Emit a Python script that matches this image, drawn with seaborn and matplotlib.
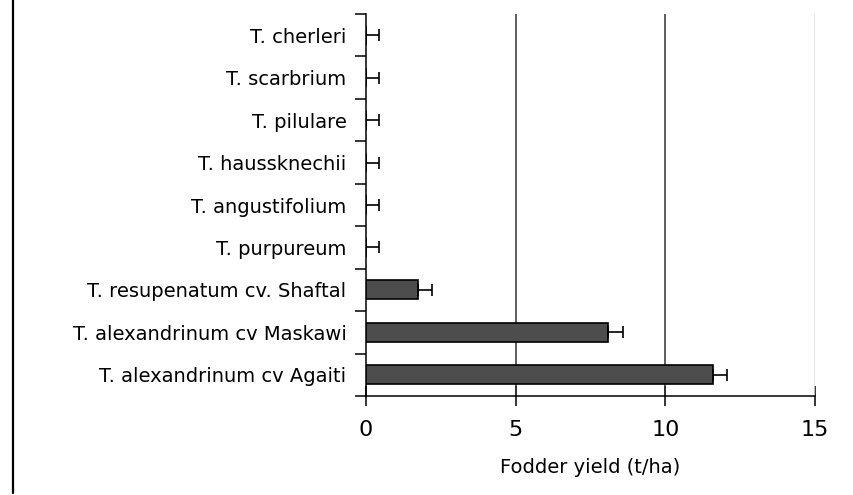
import numpy as np
import matplotlib
matplotlib.use("Agg")
import matplotlib.pyplot as plt
from matplotlib.lines import Line2D
import seaborn as sns

# ---- data ----
species = ["T. cherleri", "T. scarbrium", "T. pilulare", "T. haussknechii",
           "T. angustifolium", "T. purpureum", "T. resupenatum cv. Shaftal",
           "T. alexandrinum cv Maskawi", "T. alexandrinum cv Agaiti"]
yield_tha = [0, 0, 0, 0, 0, 0, 1.75, 8.1, 11.6]
yield_err = [0.43, 0.43, 0.43, 0.43, 0.43, 0.43, 0.45, 0.47, 0.45]
x_ticks = [0, 5, 10, 15]

sns.set_style("white")
plt.rcParams["font.family"] = ["DejaVu Sans"]
plt.rcParams["text.color"] = "black"
plt.rcParams["xtick.color"] = "black"
plt.rcParams["ytick.color"] = "black"
plt.rcParams["axes.labelcolor"] = "black"

fig = plt.figure(figsize=(8.54, 4.95), dpi=100)
ax = fig.add_axes([0.4286, 0.2, 0.5257, 0.7717])

sns.barplot(x=yield_tha, y=species, orient="h", color="#4d4d4d",
            saturation=1, width=0.45, edgecolor="black", linewidth=1.2,
            errorbar=None, ax=ax, zorder=3)

# one-sided error bars (positive side only)
pos = np.arange(len(species))
ax.errorbar(yield_tha, pos, xerr=[np.zeros(len(species)), yield_err],
            fmt="none", ecolor="black", elinewidth=1.2, capsize=4.5,
            capthick=1.2, zorder=4)

ax.set_xlim(0, 15)
ax.set_ylim(len(species) - 0.5, -0.5)
ax.set_xticks(x_ticks)
ax.set_xticklabels([str(t) for t in x_ticks], fontsize=16)

# vertical grid lines, last one light
for t in x_ticks[1:]:
    c = "#dddddd" if t == 15 else "#333333"
    ax.axvline(t, color=c, lw=1.1, zorder=1)

# category labels centred, ticks at boundaries
ax.set_yticks(pos)
ax.set_yticklabels(species, fontsize=14)
ax.set_yticks(np.arange(-0.5, len(species), 1), minor=True)
ax.tick_params(axis="y", which="major", left=True, length=0, pad=14)
ax.tick_params(axis="y", which="minor", left=True, length=8, width=1.1,
               direction="out", color="black")
ax.tick_params(axis="x", bottom=True, length=14, width=1.1,
               direction="inout", color="black", pad=10)

ax.set_ylabel("")
ax.set_xlabel("Fodder yield (t/ha)", fontsize=14, labelpad=13)

for side in ["top", "right"]:
    ax.spines[side].set_visible(False)
for side in ["left", "bottom"]:
    ax.spines[side].set_color("black")
    ax.spines[side].set_linewidth(1.1)

# left border of the original chart frame
fig.add_artist(Line2D([13 / 854, 13 / 854], [0.004, 1.0],
                      transform=fig.transFigure, color="black", lw=1.6))

fig.savefig("out.png", dpi=100)
